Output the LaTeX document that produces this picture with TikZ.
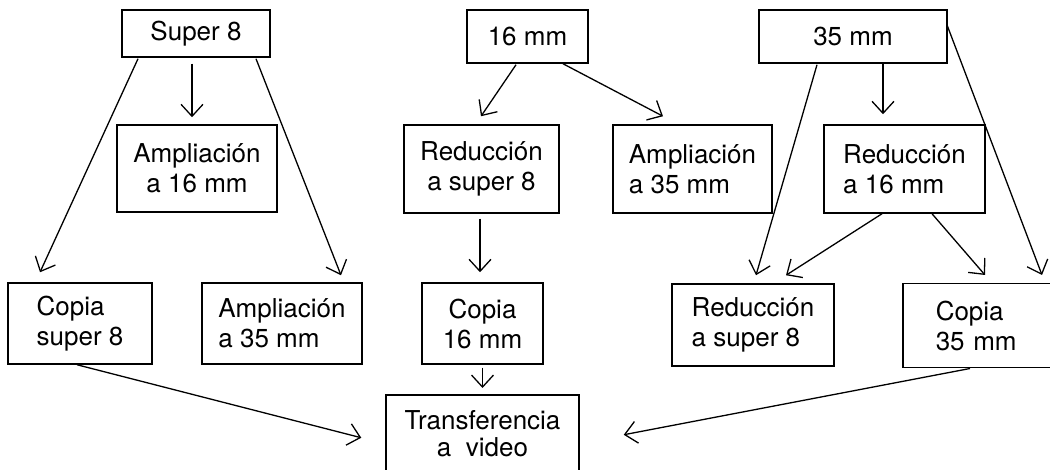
\documentclass[tikz,border=0pt]{standalone}
\usepackage{fontspec}
\setmainfont{TeX Gyre Heros}
\usetikzlibrary{arrows.meta}
\begin{document}
\begin{tikzpicture}[x=1pt,y=-1pt,
  box/.style={draw,line width=1.5pt,inner sep=0pt,font=\fontsize{26}{30}\selectfont},
  arr/.style={line width=1.3pt,-{Straight Barb[length=12pt,width=22pt,line width=1.3pt]}}]
\useasboundingbox (0,0) rectangle (1050,470);
% top row
\node[box,minimum width=148pt,minimum height=47pt] (s8) at (196,33.5) {Super 8};
\node[box,minimum width=121pt,minimum height=53pt] (m16) at (527.5,36.5) {16 mm};
\node[box,minimum width=188pt,minimum height=53pt] (m35) at (853,36.5) {35 mm};
% middle row
\node[box,minimum width=160pt,minimum height=87pt,align=center] (a16) at (197,168.5) {Ampliación\\a 16 mm};
\node[box,minimum width=155pt,minimum height=88pt,align=center] (r8a) at (481.5,169) {Reducción\\a super 8};
\node[box,minimum width=159pt,minimum height=88pt,align=left] (a35) at (692.5,169) {Ampliación\\a 35 mm};
\node[box,minimum width=161pt,minimum height=88pt,align=left] (r16) at (904.5,169) {Reducción\\a 16 mm};
% bottom row
\node[box,minimum width=144pt,minimum height=81pt,align=left] (cs8) at (80,323.5) {Copia\\super 8};
\node[box,minimum width=160pt,minimum height=81pt,align=left] (a35b) at (282,323.5) {Ampliación\\a 35 mm};
\node[box,minimum width=121pt,minimum height=81pt,align=center] (c16) at (482.5,323.5) {Copia\\16 mm};
\node[box,minimum width=162pt,minimum height=82pt,align=left] (r8b) at (753,325) {Reducción\\a super 8};
\node[box,anchor=north west,minimum width=158pt,minimum height=84pt,text width=92pt,inner xsep=33pt,align=left] (c35) at (902,283) {Copia\\35 mm};
\node[box,anchor=north,minimum width=193pt,minimum height=78pt,align=center,font=\fontsize{26}{27}\selectfont] (tv) at (482.5,394) {Transferencia\\a~~video};
% connectors
\draw[arr] ([xshift=-4pt,yshift=-6pt]s8.south) -- ([xshift=-5pt,yshift=7pt]a16.north);
\draw[arr] ([xshift=-58pt,yshift=-1pt]s8.south) -- ([xshift=-40pt,yshift=10pt]cs8.north);
\draw[arr] ([xshift=60pt,yshift=-1pt]s8.south) -- ([xshift=59pt,yshift=7pt]a35b.north);
\draw[arr] ([xshift=-11.5pt,yshift=-1pt]m16.south) -- ([xshift=-0.5pt,yshift=8pt]r8a.north);
\draw[arr] ([xshift=35.5pt]m16.south) -- ([xshift=-29.5pt,yshift=8pt]a35.north);
\draw[arr] ([xshift=-1.5pt,yshift=-5pt]r8a.south) -- ([xshift=-2.5pt,yshift=10pt]c16.north);
\draw[arr] ([yshift=-3pt]c16.south) -- ([yshift=6pt]tv.north);
\draw[arr] ([xshift=-3pt]cs8.south) -- ([xshift=-24pt,yshift=-4pt]tv.west);
\draw[arr] ([xshift=68pt]c35.south west) -- ([xshift=44pt,yshift=-1pt]tv.east);
\draw[arr] ([xshift=-36pt,yshift=-1pt]m35.south) -- ([xshift=3pt,yshift=8pt]r8b.north);
\draw[arr] ([xshift=30pt]m35.south) -- ([xshift=-21.5pt,yshift=10pt]r16.north);
\draw[arr] ([xshift=-1pt,yshift=-15pt]m35.north east) -- ([xshift=140pt,yshift=8pt]c35.north west);
\draw[arr] ([xshift=-22.5pt]r16.south) -- ([xshift=33pt,yshift=8pt]r8b.north);
\draw[arr] ([xshift=27.5pt]r16.south) -- ([xshift=83pt,yshift=8pt]c35.north west);
\end{tikzpicture}
\end{document}
